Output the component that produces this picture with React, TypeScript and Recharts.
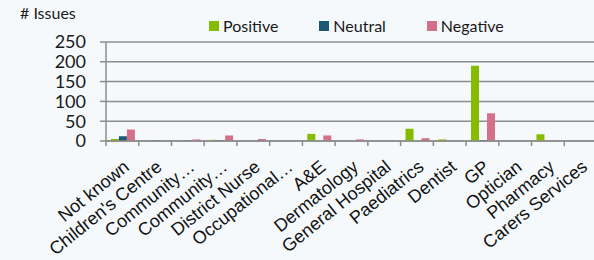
import React from "react";
import { BarChart, Bar, XAxis, YAxis, CartesianGrid } from "recharts";

const categories = [
  "Not known",
  "Children's Centre",
  "Community…",
  "Community…",
  "District Nurse",
  "Occupational…",
  "A&E",
  "Dermatology",
  "General Hospital",
  "Paediatrics",
  "Dentist",
  "GP",
  "Optician",
  "Pharmacy",
  "Carers Services",
];
const positive = [5, 0, 1, 3, 0, 0, 18, 0, 0, 31, 4, 190, 0, 17, 0];
const neutral = [12, 1, 1, 2, 0, 0, 0, 0, 0, 0, 0, 2, 0, 0, 0];
const negative = [29, 0, 4, 14, 5, 0, 14, 4, 0, 7, 0, 70, 0, 2, 0];
const yTicks = [0, 50, 100, 150, 200, 250];
const seriesNames = ["Positive", "Neutral", "Negative"] as const;

const data = categories.map((name, i) => ({
  name,
  Positive: positive[i],
  Neutral: neutral[i],
  Negative: negative[i],
}));

const W = 597;
const H = 260;
const Y_W = 106;
const BAND = (W - Y_W) / categories.length;
const AXIS_Y = 141;
const GRID = "#8c8c8c";

const COLORS = { Positive: "#86bc00", Neutral: "#1b5876", Negative: "#d4708a" };

function XTick(props: any) {
  const { x, payload, index } = props;
  const tx = x + 4;
  const ty = AXIS_Y + 23;
  return (
    <g>
      <line x1={x - BAND / 2} x2={x - BAND / 2} y1={AXIS_Y} y2={AXIS_Y + 5} stroke={GRID} strokeWidth={1.5} />
      {index === categories.length - 1 && (
        <line x1={x + BAND / 2} x2={x + BAND / 2} y1={AXIS_Y} y2={AXIS_Y + 5} stroke={GRID} strokeWidth={1.5} />
      )}
      <text
        x={tx}
        y={ty}
        dy="0.35em"
        textAnchor="end"
        transform={`rotate(-39, ${tx}, ${ty})`}
        fontFamily="'Liberation Sans', Arial, sans-serif"
        fontSize={18}
        fill="#111"
      >
        {payload.value}
      </text>
    </g>
  );
}

export default function App() {
  return (
    <div
      style={{
        position: "absolute",
        left: 0,
        top: 0,
        width: 594,
        height: 260,
        overflow: "hidden",
        background: "#f5f9fc",
      }}
    >
      <div
        style={{
          position: "absolute",
          left: 20,
          top: 3,
          fontFamily: "Lato, sans-serif",
          fontSize: 16,
          color: "#1a1a1a",
        }}
      >
        # Issues
      </div>
      <div
        style={{
          position: "absolute",
          left: 209,
          top: 16,
          display: "flex",
          fontFamily: "Lato, sans-serif",
          fontSize: 16,
          color: "#1a1a1a",
        }}
      >
        {seriesNames.map((k) => (
          <div key={k} style={{ display: "flex", alignItems: "center", marginRight: 41 }}>
            <span style={{ width: 10, height: 10, background: COLORS[k], marginRight: 4 }} />
            <span>{k}</span>
          </div>
        ))}
      </div>
      <BarChart
        width={W}
        height={H}
        data={data}
        margin={{ top: 42, right: 0, left: 0, bottom: 0 }}
        barCategoryGap="15%"
        barGap={0}
      >
        <CartesianGrid vertical={false} stroke={GRID} strokeWidth={1.5} />
        <XAxis
          dataKey="name"
          interval={0}
          height={H - AXIS_Y - 42 + 42}
          tickLine={false}
          tickSize={0}
          tickMargin={0}
          axisLine={{ stroke: GRID, strokeWidth: 1.5 }}
          tick={<XTick />}
        />
        <YAxis
          width={Y_W}
          domain={[0, 250]}
          ticks={yTicks}
          interval={0}
          tickSize={6}
          tickMargin={14}
          axisLine={{ stroke: GRID, strokeWidth: 1.5 }}
          tickLine={{ stroke: GRID, strokeWidth: 1.5 }}
          tick={{ fill: "#1a1a1a", fontSize: 18, fontFamily: "Lato, sans-serif" }}
        />
        {seriesNames.map((k) => (
          <Bar key={k} dataKey={k} fill={COLORS[k]} isAnimationActive={false} />
        ))}
      </BarChart>
    </div>
  );
}
